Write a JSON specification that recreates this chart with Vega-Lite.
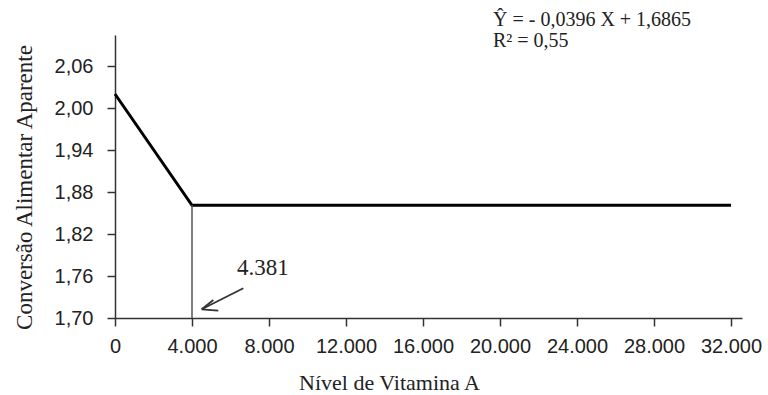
{
  "$schema": "https://vega.github.io/schema/vega-lite/v6.json",
  "autosize": "none",
  "width": 627,
  "height": 283,
  "padding": {"left": 115, "top": 35, "right": 26, "bottom": 77},
  "background": "white",
  "config": {
    "view": {"stroke": null},
    "axis": {"grid": false, "domainColor": "#333", "tickColor": "#333", "domainWidth": 1.5, "tickWidth": 1.5, "tickSize": 8, "labelColor": "#222", "titleColor": "#222", "labelFont": "Liberation Sans", "titleFont": "Liberation Serif", "titleFontWeight": "normal"}
  },
  "datasets": {
    "curve": [
      {"nivel": 0, "conversao": 2.02},
      {"nivel": 4000, "conversao": 1.861},
      {"nivel": 32000, "conversao": 1.861}
    ],
    "marker": [{"nivel": 4000, "y0": 1.70, "y1": 1.861}],
    "arrow": [
      {"xa": 6665, "ya": 1.7424, "xb": 4504, "yb": 1.7124},
      {"xa": 4504, "ya": 1.7124, "xb": 5107, "yb": 1.7257},
      {"xa": 4504, "ya": 1.7124, "xb": 5366, "yb": 1.7104}
    ],
    "labels": [
      {"nivel": 6338, "conversao": 1.7614, "texto": "4.381", "kind": "ponto"},
      {"nivel": 19636, "conversao": 2.1171, "texto": "Ŷ = - 0,0396 X + 1,6865", "kind": "eq"},
      {"nivel": 19636, "conversao": 2.0871, "texto": "R² = 0,55", "kind": "eq"}
    ]
  },
  "layer": [
    {
      "data": {"name": "curve"},
      "mark": {"type": "line", "color": "black", "strokeWidth": 3, "clip": false},
      "encoding": {
        "x": {
          "field": "nivel", "type": "quantitative",
          "scale": {"domain": [0, 32571], "nice": false, "zero": false},
          "axis": {
            "values": [0, 4000, 8000, 12000, 16000, 20000, 24000, 28000, 32000],
            "labelExpr": "replace(format(datum.value, ',d'), ',', '.')",
            "labelFontSize": 20, "labelPadding": 10, "labelFlush": false,
            "title": "Nível de Vitamina A", "titleFontSize": 22,
            "titleX": 274, "titleY": 71, "titleBaseline": "alphabetic", "titleAlign": "center"
          }
        },
        "y": {
          "field": "conversao", "type": "quantitative",
          "scale": {"domain": [1.70, 2.1043], "nice": false, "zero": false},
          "axis": {
            "values": [1.70, 1.76, 1.82, 1.88, 1.94, 2.00, 2.06],
            "labelExpr": "replace(format(datum.value, '.2f'), '.', ',')",
            "labelFontSize": 20, "labelPadding": 14, "labelFlush": false,
            "title": "Conversão Alimentar Aparente", "titleFontSize": 23,
            "titleX": -84, "titleY": 152, "titleAngle": -90, "titleBaseline": "alphabetic", "titleAlign": "center"
          }
        }
      }
    },
    {
      "data": {"name": "marker"},
      "mark": {"type": "rule", "color": "#555", "strokeWidth": 1.5},
      "encoding": {
        "x": {"field": "nivel", "type": "quantitative"},
        "y": {"field": "y0", "type": "quantitative"},
        "y2": {"field": "y1"}
      }
    },
    {
      "data": {"name": "arrow"},
      "mark": {"type": "rule", "color": "#333", "strokeWidth": 1.8},
      "encoding": {
        "x": {"field": "xa", "type": "quantitative"},
        "y": {"field": "ya", "type": "quantitative"},
        "x2": {"field": "xb"},
        "y2": {"field": "yb"}
      }
    },
    {
      "data": {"name": "labels"},
      "mark": {"type": "text", "align": "left", "baseline": "alphabetic", "font": "Liberation Serif", "color": "#222", "clip": false},
      "encoding": {
        "x": {"field": "nivel", "type": "quantitative"},
        "y": {"field": "conversao", "type": "quantitative"},
        "text": {"field": "texto"},
        "size": {"field": "kind", "type": "nominal", "scale": {"domain": ["ponto", "eq"], "range": [23, 20]}, "legend": null}
      }
    }
  ]
}
